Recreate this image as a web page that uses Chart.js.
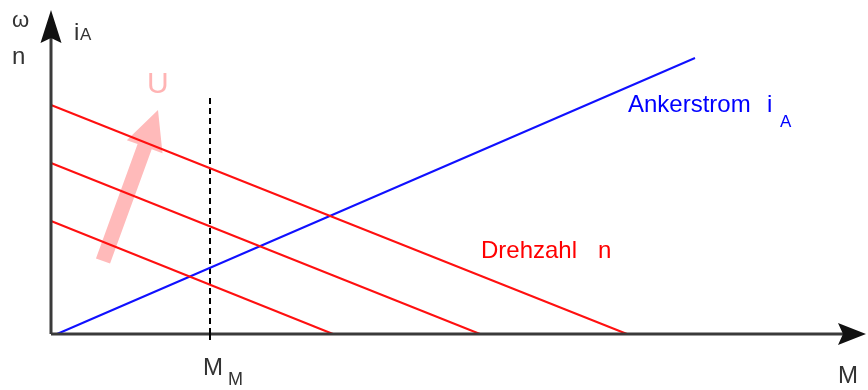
<!DOCTYPE html>
<html>
<head>
<meta charset="utf-8">
<script src="https://cdn.jsdelivr.net/npm/chart.js@4"></script>
<style>
html,body{margin:0;padding:0;background:#fff;}
#wrap{width:868px;height:390px;}
</style>
</head>
<body>
<div id="wrap"><canvas id="c" width="868" height="390"></canvas></div>
<script>
// ---- data (arbitrary units: M horizontally, n / i_A vertically) ----
const speedLow  = [{x:0, y:11.3}, {x:28.2, y:0}];
const speedMid  = [{x:0, y:17.1}, {x:42.9, y:0}];
const speedHigh = [{x:0, y:22.9}, {x:57.6, y:0}];
const armatureCurrent = [{x:0.6, y:0}, {x:64.4, y:27.6}];
const ratedTorque = [{x:15.9, y:23.6}, {x:15.9, y:-0.6}];
const voltageArrow = [{x:5.2, y:7.3}, {x:10.7, y:22.4}];
const xRange = [-5.1, 81.7];
const yRange = [-5.6, 33.4];
const axisEnds = {x:81.5, y:32.4};

const FONT = '"Liberation Sans", Arial, sans-serif';

function txt(ctx, s, x, y, size, color){
  ctx.font = size + 'px ' + FONT;
  ctx.fillStyle = color;
  ctx.textAlign = 'left';
  ctx.textBaseline = 'alphabetic';
  ctx.fillText(s, x, y);
}

const decor = {
  id:'decor',
  beforeDatasetsDraw(chart){
    const ctx = chart.ctx, xs = chart.scales.x, ys = chart.scales.y;
    const X = v => xs.getPixelForValue(v), Y = v => ys.getPixelForValue(v);
    // pink arrow (U)
    const x0 = X(voltageArrow[0].x), y0 = Y(voltageArrow[0].y);
    const x1 = X(voltageArrow[1].x), y1 = Y(voltageArrow[1].y);
    const dx = x1-x0, dy = y1-y0, L = Math.hypot(dx,dy);
    const ux = dx/L, uy = dy/L, nx = -uy, ny = ux;
    const headL = 39, headW = 19, shaftW = 7.5;
    const bx = x1 - ux*headL, by = y1 - uy*headL;
    ctx.save();
    ctx.fillStyle = '#ffbaba';
    ctx.beginPath();
    ctx.moveTo(x0 + nx*shaftW, y0 + ny*shaftW);
    ctx.lineTo(bx + nx*shaftW, by + ny*shaftW);
    ctx.lineTo(bx + nx*headW, by + ny*headW);
    ctx.lineTo(x1, y1);
    ctx.lineTo(bx - nx*headW, by - ny*headW);
    ctx.lineTo(bx - nx*shaftW, by - ny*shaftW);
    ctx.lineTo(x0 - nx*shaftW, y0 - ny*shaftW);
    ctx.closePath();
    ctx.fill();
    ctx.restore();
  },
  afterDatasetsDraw(chart){
    const ctx = chart.ctx, xs = chart.scales.x, ys = chart.scales.y;
    const X = v => xs.getPixelForValue(v), Y = v => ys.getPixelForValue(v);
    const ox = X(0), oy = Y(0);
    ctx.save();
    // axes
    ctx.strokeStyle = '#3a3a3a';
    ctx.lineWidth = 3;
    ctx.beginPath();
    ctx.moveTo(ox, oy); ctx.lineTo(ox, Y(axisEnds.y) + 10);
    ctx.moveTo(ox, oy); ctx.lineTo(X(axisEnds.x) - 10, oy);
    ctx.stroke();
    ctx.fillStyle = '#111';
    // y arrow head
    const ty = Y(axisEnds.y);
    ctx.beginPath();
    ctx.moveTo(ox, ty);
    ctx.lineTo(ox - 10.5, ty + 33);
    ctx.lineTo(ox, ty + 28);
    ctx.lineTo(ox + 10.5, ty + 33);
    ctx.closePath(); ctx.fill();
    // x arrow head
    const tx = X(axisEnds.x);
    ctx.beginPath();
    ctx.moveTo(tx, oy);
    ctx.lineTo(tx - 28, oy - 11);
    ctx.lineTo(tx - 23, oy);
    ctx.lineTo(tx - 28, oy + 11);
    ctx.closePath(); ctx.fill();
    // tick of M_M under axis
    ctx.strokeStyle = '#000'; ctx.lineWidth = 2;
    ctx.beginPath();
    ctx.moveTo(X(ratedTorque[0].x), oy - 4); ctx.lineTo(X(ratedTorque[0].x), oy + 6);
    ctx.stroke();

    // texts
    txt(ctx, '\u03c9', X(-3.9), Y(30.7), 22, '#333');
    txt(ctx, 'n', X(-3.9), Y(27.0), 24, '#333');
    txt(ctx, 'i', X(2.3), Y(29.4), 24, '#333');
    txt(ctx, 'A', X(2.9), Y(29.4), 17, '#333');
    txt(ctx, 'M', X(15.2), Y(-4.1), 24, '#333');
    txt(ctx, 'M', X(17.7), Y(-5.1), 18, '#333');
    txt(ctx, 'M', X(78.7), Y(-4.9), 24, '#333');
    txt(ctx, 'U', X(9.6), Y(24.1), 30, '#ffb4b4');
    txt(ctx, 'Ankerstrom', X(57.7), Y(22.2), 24, '#0000ff');
    txt(ctx, 'i', X(71.6), Y(22.2), 24, '#0000ff');
    txt(ctx, 'A', X(72.9), Y(20.7), 17, '#0000ff');
    txt(ctx, 'Drehzahl', X(43.0), Y(7.6), 24, '#ff0000');
    txt(ctx, 'n', X(54.7), Y(7.6), 24, '#ff0000');
    ctx.restore();
  }
};

const redLine = (data) => ({data, borderColor:'#ff1010', borderWidth:2, showLine:true, pointRadius:0, fill:false, tension:0});

new Chart(document.getElementById('c'), {
  type:'scatter',
  data:{datasets:[
    redLine(speedLow), redLine(speedMid), redLine(speedHigh),
    {data:armatureCurrent, borderColor:'#1010ff', borderWidth:2, showLine:true, pointRadius:0, fill:false},
    {data:ratedTorque, borderColor:'#000', borderWidth:2, borderDash:[6,4], showLine:true, pointRadius:0, fill:false}
  ]},
  options:{
    responsive:false, animation:false,
    layout:{padding:0},
    plugins:{legend:{display:false}, tooltip:{enabled:false}},
    scales:{
      x:{type:'linear', min:xRange[0], max:xRange[1], display:false},
      y:{type:'linear', min:yRange[0], max:yRange[1], display:false}
    }
  },
  plugins:[decor]
});
</script>
</body>
</html>
